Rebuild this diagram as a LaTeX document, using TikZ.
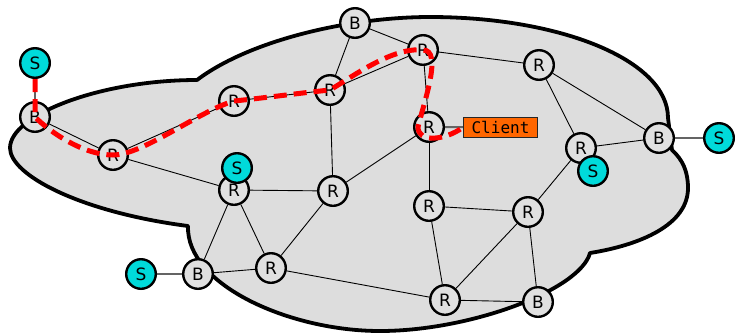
\documentclass[tikz,border=0pt]{standalone}
\usepackage{fontspec}
\setmainfont{DejaVu Sans}
\setmonofont{DejaVu Sans Mono}
\usetikzlibrary{calc}
\definecolor{cloudgray}{RGB}{221,221,221}
\definecolor{nodegray}{RGB}{224,224,224}
\definecolor{srvcyan}{RGB}{0,218,218}
\definecolor{clientorange}{RGB}{255,102,0}
\definecolor{linkgray}{RGB}{100,100,100}
\pgfdeclarelayer{bg}
\pgfdeclarelayer{edges}
\pgfsetlayers{bg,edges,main}
\begin{document}
\begin{tikzpicture}[x=1pt,y=-1pt,
  net/.style={circle, draw=black, line width=2.4pt, minimum size=29.6pt,
    inner sep=0pt, fill=nodegray, font=\fontsize{17}{20}\selectfont},
  srv/.style={net, fill=srvcyan},
  clientbox/.style={rectangle, draw=black!85, line width=1.5pt, fill=clientorange,
    minimum width=74pt, minimum height=20pt, inner sep=0pt,
    font=\ttfamily\fontsize{16}{19}\selectfont},
  link/.style={line width=0.9pt, draw=black},
  access/.style={line width=2pt, draw=linkgray},
  route/.style={draw=red, line width=5pt, dash pattern=on 13pt off 7pt},
  cloudshape/.style={fill=cloudgray, draw=black, line width=3.8pt, line join=round}]
\useasboundingbox (0,0) rectangle (735,333);

% provider network outline
\begin{pgfonlayer}{bg}
\path[cloudshape] (197,80)
  .. controls (250,40) and (350,17) .. (430,17)
  .. controls (560,17) and (668,60) .. (668,118)
  -- (672,150)
  .. controls (683,160) and (688,172) .. (688,188)
  .. controls (688,225) and (640,245) .. (590,253)
  .. controls (580,290) and (470,331) .. (380,331)
  .. controls (290,331) and (186,285) .. (188,226)
  .. controls (80,212) and (10,175) .. (10,148)
  .. controls (10,115) and (100,80) .. (197,80) -- cycle;
\end{pgfonlayer}

% routers and border nodes
\node[net] (B1) at (35,117) {B};
\node[net] (R1) at (113,155) {R};
\node[net] (R2) at (234,101) {R};
\node[net] (R3) at (234,190) {R};
\node[net] (R4) at (330,90) {R};
\node[net] (B2) at (355,23) {B};
\node[net] (R5) at (423,50) {R};
\node[net] (R6) at (429,127) {R};
\node[net] (R7) at (539,65) {R};
\node[net] (R8) at (581,148) {R};
\node[net] (B3) at (659,138) {B};
\node[net] (R9) at (333,191) {R};
\node[net] (R10) at (271,268) {R};
\node[net] (B4) at (198,274) {B};
\node[net] (R11) at (429,206) {R};
\node[net] (R12) at (528,212) {R};
\node[net] (R13) at (445,300) {R};
\node[net] (B5) at (538,302) {B};

% servers
\node[srv] (S1) at (35,63) {S};
\node[srv] (S2) at (237,168) {S};
\node[srv] (S3) at (593,171) {S};
\node[srv] (S4) at (719,138) {S};
\node[srv] (S5) at (141,274) {S};

\node[clientbox] (Client) at (500.5,127.5) {Client};

% links
\begin{pgfonlayer}{edges}
\foreach \a/\b in {B1/R1, R1/R2, R1/R3, R2/R4, R4/B2, R4/R5, B2/R5, R4/R9,
    R5/R7, R5/R6, R6/R9, R6/R11, R7/R8, R7/B3, R8/B3, R8/R12,
    R3/R9, R3/B4, R3/R10, R9/R10, B4/R10, R10/R13,
    R11/R12, R11/R13, R12/R13, R12/B5, R13/B5}
  \draw[link] (\a) -- (\b);
\foreach \a/\b in {S1/B1, B3/S4, S5/B4, R6/Client}
  \draw[access] (\a) -- (\b);
\end{pgfonlayer}

% client path
\coordinate (r6w) at ($(R6.center)+(-11,0)$);
\draw[route] (S1.south) -- (B1.center)
  .. controls +(15,15) and +(-30,0) .. (R1.center)
  .. controls +(30,0) and +(-35,10) .. (R2.center)
  .. controls +(30,-3) and +(-30,3) .. (R4.center)
  .. controls +(25,-15) and +(-30,-3) .. (R5.center)
  .. controls +(20,0) and +(6,-25) .. (r6w)
  .. controls +(0,16) and +(-18,13) .. (Client.west);
\end{tikzpicture}
\end{document}
